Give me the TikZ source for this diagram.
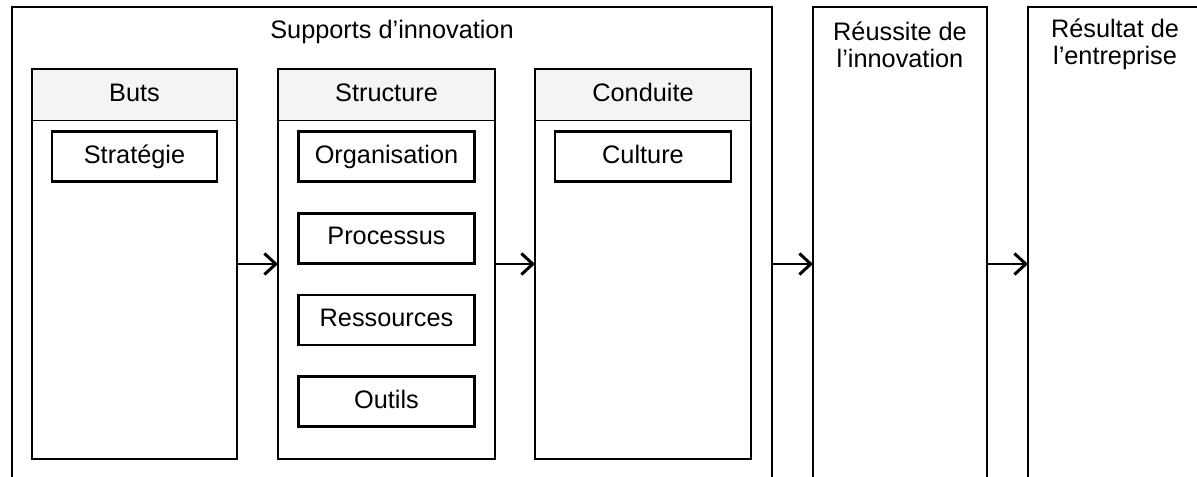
\documentclass[tikz,border=0pt]{standalone}
\usepackage{fontspec}
\setmainfont{Liberation Sans}
\usetikzlibrary{arrows.meta,positioning}
\definecolor{hdrgray}{RGB}{244,244,244}
\begin{document}
\begin{tikzpicture}[
	outer/.style={draw, line width=1.6pt, minimum height=9.66cm, inner sep=0pt, outer sep=0pt},
	col/.style={draw, line width=1.6pt, minimum height=7.8cm, inner sep=0pt, outer sep=0pt},
	hdr/.style={fill=hdrgray, minimum height=1.02cm, inner sep=0pt, outer sep=0pt, text height=10.5pt, text depth=3pt, font=\fontsize{14.4}{16}\selectfont},
	item/.style={draw, line width=1.6pt, minimum width=3.52cm, minimum height=1.0cm, inner sep=0pt, text height=10.5pt, text depth=3pt, font=\fontsize{14.4}{16}\selectfont},
	lbl/.style={font=\fontsize{14.4}{15.5}\selectfont, align=center},
	flow/.style={line width=0.6pt, -{Straight Barb[line width=1.7pt, length=6.5pt, width=12pt]}}
]
	\clip (0,0) rectangle (23.94,-9.52);
	\node[outer, minimum width=15.2cm] (sup) at (7.84,-4.97) {};
	\node[outer, minimum width=3.48cm] (reu) at (18.0,-4.97) {};
	\node[outer, minimum width=3.48cm] (res) at (22.3,-4.97) {};
	\node[lbl] (supt) at ([yshift=-0.5cm]sup.north) {Supports d’innovation};
	\node[lbl] (reut) at ([yshift=-0.75cm]reu.north) {Réussite de\\l’innovation};
	\node[lbl] (rest) at ([yshift=-0.75cm]res.north) {Résultat de\\l’entreprise};

	\node[hdr, minimum width=4.1cm] (butsh) at (2.69,-1.89) {Buts};
	\node[col, minimum width=4.1cm, anchor=north] (buts) at (butsh.north) {};
	\draw[thin] (butsh.south west) -- (butsh.south east);
	\node[item, minimum width=3.3cm, below=0.2cm of butsh] (strat) {Stratégie};

	\node[hdr, minimum width=4.34cm] (strh) at (7.73,-1.89) {Structure};
	\node[col, minimum width=4.34cm, anchor=north] (str) at (strh.north) {};
	\draw[thin] (strh.south west) -- (strh.south east);
	\node[item, below=0.2cm of strh] (org) {Organisation};
	\node[item, below=0.58cm of org] (proc) {Processus};
	\node[item, below=0.58cm of proc] (ress) {Ressources};
	\node[item, below=0.58cm of ress] (outi) {Outils};

	\node[hdr, minimum width=4.32cm] (conh) at (12.86,-1.89) {Conduite};
	\node[col, minimum width=4.32cm, anchor=north] (con) at (conh.north) {};
	\draw[thin] (conh.south west) -- (conh.south east);
	\node[item, below=0.2cm of conh] (cult) {Culture};

	\draw[flow] (buts) -- (str);
	\draw[flow] (str) -- (con);
	\draw[flow] (sup.east |- con.east) -- (reu.west |- con.east);
	\draw[flow] (reu.east |- con.east) -- (res.west |- con.east);
\end{tikzpicture}
\end{document}
